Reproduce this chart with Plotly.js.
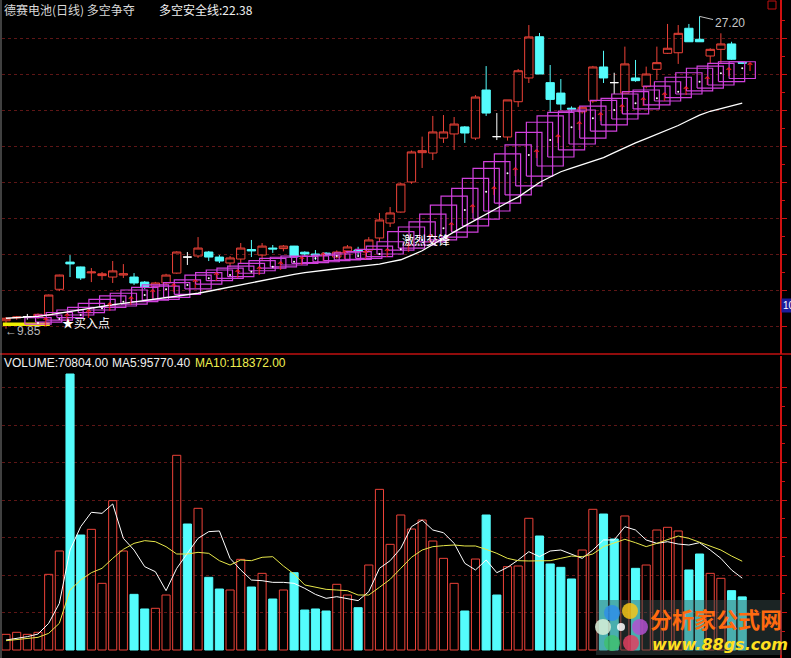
<!DOCTYPE html>
<html><head><meta charset="utf-8">
<script src="https://cdn.plot.ly/plotly-3.0.1.min.js"></script>
<style>html,body{margin:0;padding:0;background:#000;}#chart{width:791px;height:658px;}</style>
</head><body><div id="chart"></div>
<script>
// ---------------- data ----------------
const openP = [10.29,10.45,10.52,10.48,10.61,12.04,13.55,13.28,12.95,12.8,
 12.72,12.83,12.72,12.44,12.17,12.39,12.94,13.83,13.89,14.11,
 13.83,13.5,13.72,14.25,13.94,14.33,14.3,14.44,14.1,14.0,
 14.05,13.83,14.17,14.22,14.22,14.89,15.72,16.33,18.0,19.63,
 19.61,20.44,20.67,21.06,20.44,23.11,20.52,20.5,22.46,23.78,
 26.07,23.52,22.94,22.1,21.9,22.5,24.39,23.52,22.94,23.78,
 23.3,24.26,25.15,25.18,26.54,25.93,25.0,25.37,25.67,24.65];
const highP = [10.5,10.55,10.67,10.7,11.75,12.85,13.94,13.3,13.22,13.0,
 13.61,13.44,12.94,12.5,12.45,12.9,14.15,14.11,14.94,14.17,
 13.94,13.89,14.61,14.78,14.61,14.5,14.5,14.45,14.15,14.22,
 14.1,14.2,14.5,14.4,14.94,16.28,16.61,17.95,19.75,20.52,
 21.67,21.72,21.61,21.11,22.83,24.44,21.83,22.56,24.28,26.72,
 26.28,24.5,23.72,22.2,22.2,24.45,25.29,24.07,25.52,24.78,
 24.41,25.52,26.78,26.72,26.78,27.2,25.43,26.26,25.79,24.7];
const lowP = [9.85,10.35,10.35,10.4,10.55,11.94,12.72,12.56,12.44,12.56,
 12.39,12.67,12.28,12.05,12.1,12.3,12.9,13.39,13.78,13.61,
 13.5,13.28,13.5,13.83,13.67,14.06,14.15,13.8,13.9,13.67,
 13.9,13.75,14.06,13.94,14.15,14.67,15.5,16.3,17.9,18.78,
 19.22,20.17,19.78,20.17,20.33,21.67,20.33,20.3,22.17,23.5,
 24.0,21.89,22.0,21.9,21.8,22.4,23.5,22.89,22.94,23.57,
 23.2,23.67,25.11,24.56,25.79,25.79,24.59,24.59,24.78,24.55];
const closeP = [10.43,10.5,10.52,10.65,11.72,12.83,13.45,12.67,13.0,12.9,
 13.06,12.9,12.39,12.17,12.39,12.83,14.11,13.83,14.33,13.83,
 13.61,13.78,14.33,14.17,14.44,14.28,14.44,13.83,14.0,13.94,
 13.95,14.11,14.39,14.17,14.78,15.89,16.28,17.89,19.67,19.74,
 20.78,20.78,21.22,20.72,22.72,21.83,20.52,22.56,24.18,26.06,
 24.0,22.59,22.33,22.05,22.15,24.39,23.78,23.52,24.56,23.63,
 24.0,24.63,25.43,26.26,25.79,25.79,25.37,25.67,24.82,24.6];
// 多空安全线
const safetyLine = [10.43,10.45,10.47,10.53,10.62,10.72,10.81,10.90,11.0,11.09,
 11.18,11.26,11.34,11.41,11.48,11.57,11.65,11.73,11.82,11.93,
 12.05,12.17,12.28,12.41,12.52,12.64,12.76,12.87,12.96,13.04,
 13.13,13.18,13.24,13.31,13.38,13.44,13.56,13.68,13.92,14.18,
 14.53,14.89,15.23,15.56,15.89,16.21,16.53,16.86,17.16,17.56,
 17.97,18.28,18.57,18.77,18.97,19.14,19.36,19.63,19.92,20.17,
 20.41,20.64,20.87,21.14,21.43,21.71,21.93,22.09,22.22,22.38];
// magenta boxes: top / bottom price per bar
const boxTop = [null,null,null,10.47,10.61,10.75,10.89,11.04,11.26,11.48,
 11.67,11.82,12.0,12.15,12.28,12.22,12.41,12.56,12.83,12.96,
 13.11,13.21,13.33,13.48,13.63,13.76,13.82,13.89,13.86,13.89,
 13.94,14.0,14.07,14.13,14.26,14.44,14.68,15.24,15.5,15.78,
 16.22,16.72,17.22,17.65,18.2,18.76,19.13,19.56,20.06,20.76,
 21.32,21.67,21.87,21.94,22.0,22.22,22.53,22.65,22.89,23.02,
 23.11,23.33,23.57,23.82,24.07,24.32,24.44,24.59,24.68,24.68];
const boxBottom = [null,null,null,10.1,10.22,10.33,10.47,10.61,10.74,10.89,
 11.04,11.11,11.22,11.35,11.44,11.48,11.59,11.76,12.06,12.33,
 12.52,12.65,12.74,12.93,13.07,13.21,13.29,13.39,13.48,13.52,
 13.57,13.63,13.67,13.7,13.76,13.85,14.0,14.22,14.33,14.5,
 14.67,14.78,14.94,15.22,15.56,15.94,16.39,16.83,17.28,17.78,
 18.33,18.89,19.39,19.78,20.11,20.44,20.83,21.17,21.5,21.78,
 22.06,22.28,22.5,22.69,22.89,23.06,23.22,23.39,23.58,23.75];
// red up-arrows
const arrowBars = [3,5,7,9,11,13,15,17,19,21,23,25,27,29,31,33,35,37,39,41,43,45,47,49,51,53,55,57,59,61,63,65,67,69];
const arrowPrice = [10.17,10.39,10.61,10.98,11.35,11.72,12.04,12.28,12.65,12.83,
 13.02,13.29,13.57,13.76,13.89,13.89,14.0,14.26,14.78,15.43,
 16.44,17.46,18.48,19.5,20.33,21.04,21.54,22.0,22.37,22.65,
 23.02,23.57,24.04,24.32];
// yellow buy-zone line
const buyLineBars = [-0.3, 4.1];
const buyLinePrice = [10.1, 10.1];
// volume
const volume = [20900,23600,20900,23600,100900,132000,368000,153300,160900,88900,
 199100,132000,74200,54700,55600,73300,259600,168000,188900,96900,
 81300,80000,120900,84000,102200,68000,80000,103100,53300,54700,
 52000,87600,73300,56400,113300,214200,140900,180000,161300,173300,
 145300,122200,88900,52000,121300,180000,73300,111100,112000,175600,
 152000,114700,110200,94700,133300,187600,181300,148000,178700,108900,
 113300,160000,163600,158700,106700,128000,102200,95600,79100,70804];
const ma5 = [13300,15600,17800,21300,35600,62200,133300,164400,183600,182200,
 194700,148900,133300,111100,104400,79100,108900,128900,148900,157800,
 158700,122200,106700,93300,92400,90200,90200,88900,82200,74200,
 68900,71100,68900,65800,77800,108900,119100,135600,164400,173300,
 160000,156400,142200,115600,106700,120000,103100,110200,120000,131100,
 124400,132000,133300,128000,122200,133300,146700,146700,164400,160000,
 146700,142200,144400,141300,140000,143100,133300,122200,106700,95770.4];
const ma10 = [12400,14200,15100,16900,22200,35600,80000,93300,103100,108900,
 122200,134200,142200,145800,144400,137800,128000,128000,130200,128900,
 119100,113300,120000,119100,123600,124400,112000,101300,86700,83600,
 80900,80000,79100,73300,73300,83600,94200,108900,123600,133300,
 137800,139100,140000,138700,138700,134200,128900,122200,119100,118700,
 118700,119100,122200,125300,124400,128000,137800,142200,147600,143100,
 137800,142200,146700,152000,148900,143600,137800,133300,125300,118372];
const priceTicks = [10,12,14,16,18,20,22,24,26];
const volTicks = [50000,100000,150000,200000,250000,300000,350000];

// ---------------- styling ----------------
const RED = '#ec4238', CYAN = '#54fcfc', MAG = '#d040dc', AXR = '#d01010', GRID = '#5e1616';
const N = closeP.length;
const idx = Array.from({length: N}, (_, i) => i);
const W = 791, H = 658, L = 2, R = 780;
const PX = x => (x - L) / (R - L);
const PY = y => 1 - y / H;

function candles(filter, lineCol, fillCol) {
  const ii = idx.filter(filter);
  return {
    type: 'candlestick', xaxis: 'x', yaxis: 'y', hoverinfo: 'skip',
    x: ii, open: ii.map(i => openP[i]), high: ii.map(i => highP[i]),
    low: ii.map(i => lowP[i]), close: ii.map(i => closeP[i]),
    increasing: {line: {color: lineCol, width: 1}, fillcolor: fillCol},
    decreasing: {line: {color: lineCol, width: 1}, fillcolor: fillCol},
    whiskerwidth: 0
  };
}
const upT = candles(i => closeP[i] > openP[i], RED, 'rgba(0,0,0,0)');
const dnT = candles(i => closeP[i] < openP[i], CYAN, CYAN);
const djT = candles(i => closeP[i] === openP[i], '#ffffff', '#ffffff');

// boxes
const BW = 1.23;
const bx = [], by = [];
idx.forEach(i => {
  if (boxTop[i] == null) return;
  bx.push(i - BW, i + BW, i + BW, i - BW, i - BW, null);
  by.push(boxBottom[i], boxBottom[i], boxTop[i], boxTop[i], boxBottom[i], null);
});
const boxT = {type: 'scatter', mode: 'lines', x: bx, y: by, xaxis: 'x', yaxis: 'y',
  line: {color: MAG, width: 1.2}, hoverinfo: 'skip', connectgaps: false};

const safeT = {type: 'scatter', mode: 'lines', x: idx, y: safetyLine, xaxis: 'x', yaxis: 'y',
  line: {color: '#ffffff', width: 1.3}, hoverinfo: 'skip'};

const arrowT = {type: 'scatter', mode: 'markers+text', x: arrowBars, y: arrowPrice,
  xaxis: 'x', yaxis: 'y', marker: {color: '#ffffff', size: 2},
  text: arrowBars.map(() => '↑'), textposition: 'middle right',
  textfont: {color: '#e82020', size: 12, family: 'DejaVu Sans'}, hoverinfo: 'skip'};

const buyT = {type: 'scatter', mode: 'lines', x: buyLineBars, y: buyLinePrice, xaxis: 'x', yaxis: 'y',
  line: {color: '#f0f000', width: 3.5}, hoverinfo: 'skip'};

// volume
const volUp = idx.map(i => closeP[i] > openP[i] || (closeP[i] === openP[i] && i > 0 && closeP[i] >= closeP[i - 1]));
const volT = {type: 'bar', x: idx, y: volume, xaxis: 'x', yaxis: 'y2', width: 0.76,
  marker: {color: volUp.map(u => u ? 'rgba(0,0,0,0)' : CYAN),
           line: {color: volUp.map(u => u ? RED : CYAN), width: 1}}, hoverinfo: 'skip'};
const ma5T = {type: 'scatter', mode: 'lines', x: idx, y: ma5, xaxis: 'x', yaxis: 'y2',
  line: {color: '#ffffff', width: 1}, hoverinfo: 'skip'};
const ma10T = {type: 'scatter', mode: 'lines', x: idx, y: ma10, xaxis: 'x', yaxis: 'y2',
  line: {color: '#e8e84a', width: 1}, hoverinfo: 'skip'};

// annotations
const CJK = 'Noto Sans CJK SC', LAT = 'Liberation Sans';
const maxH = Math.max(...highP), maxI = highP.indexOf(maxH);
const minL = Math.min(...lowP), minI = lowP.indexOf(minL);
function lab(text, x, y, color, size, fam, extra) {
  return Object.assign({xref: 'paper', yref: 'paper', x: PX(x), y: PY(y), xanchor: 'left', yanchor: 'middle',
    text: text, showarrow: false, font: {color: color, size: size, family: fam}}, extra || {});
}
const annotations = [
  lab('德赛电池(日线) 多空争夺', 2, 10, '#d8d8d8', 12, CJK),
  lab('多空安全线:' + safetyLine[N - 1].toFixed(2), 157, 10, '#f0f0f0', 12, CJK),
  lab('VOLUME:' + volume[N - 1].toFixed(2), 2, 363, '#f0f0f0', 12, LAT),
  lab('MA5:' + ma5[N - 1].toFixed(2), 110, 363, '#f0f0f0', 12, LAT),
  lab('MA10:' + ma10[N - 1].toFixed(2), 193, 363, '#f0f050', 12, LAT),
  lab('10', 780.5, 306, '#ffffff', 10, LAT, {bgcolor: '#1c1c9c', borderpad: 1}),
  {xref: 'x', yref: 'y', x: maxI, y: maxH, text: maxH.toFixed(2), showarrow: true, arrowhead: 0,
   arrowwidth: 1, arrowcolor: '#c0c0c0', ax: 30, ay: 7, font: {color: '#c8c8c8', size: 12, family: LAT}},
  {xref: 'x', yref: 'y', x: minI, y: minL, text: '←' + minL.toFixed(2), showarrow: false,
   xanchor: 'left', yanchor: 'middle', xshift: -3, yshift: -2, font: {color: '#b8b8b8', size: 12, family: LAT}},
  {xref: 'x', yref: 'y', x: 5.05, y: 10.17, text: '★买入点', showarrow: false, xanchor: 'left', yanchor: 'middle',
   font: {color: '#ffffff', size: 12, family: CJK}},
  {xref: 'x', yref: 'y', x: 36.95, y: 14.78, text: '激烈交锋', showarrow: false, xanchor: 'left', yanchor: 'middle',
   font: {color: '#ffffff', size: 12, family: CJK}},
  // watermark
  lab('<b>分析家公式网</b>', 648, 618, '#ff6a10', 22, CJK),
  lab('<b><i>www.88gs.com</i></b>', 650, 644, '#ffe020', 16, 'DejaVu Sans'),
];

function circle(cx, cy, r, col) {
  return {type: 'circle', xref: 'paper', yref: 'paper', x0: PX(cx - r), x1: PX(cx + r), y0: PY(cy + r), y1: PY(cy - r),
    fillcolor: col, line: {width: 0}, opacity: 0.85};
}
const shapes = [
  {type: 'line', xref: 'paper', yref: 'paper', x0: PX(0), x1: PX(791), y0: PY(354), y1: PY(354), line: {color: '#c01010', width: 1.5}},
  {type: 'line', xref: 'paper', yref: 'paper', x0: PX(1), x1: PX(1), y0: 0, y1: 1, line: {color: '#808080', width: 1}},
  {type: 'rect', xref: 'paper', yref: 'paper', x0: PX(768), x1: PX(776), y0: PY(9), y1: PY(1), line: {color: '#c01010', width: 1}},
  {type: 'rect', xref: 'paper', yref: 'paper', x0: PX(596), x1: PX(782), y0: PY(655), y1: PY(600),
   fillcolor: 'rgba(60,80,80,0.45)', line: {width: 0}},
  circle(612, 613, 8, '#2f8fe8'), circle(630, 611, 8, '#f5c518'), circle(640, 627, 8, '#b050d0'),
  circle(631, 643, 8, '#e04060'), circle(612, 643, 8, '#40c070'), circle(603, 627, 8, '#d8f0d8'),
  circle(621, 627, 4, '#ffffff')
];

const layout = {
  width: W, height: H, margin: {l: L, r: W - R, t: 0, b: 0, pad: 0},
  paper_bgcolor: '#000', plot_bgcolor: '#000', showlegend: false, hovermode: false,
  boxgap: 0.22, boxgroupgap: 0, boxmode: 'overlay', barmode: 'overlay',
  xaxis: {range: [-(6 - L) / 10.67, (R - 6) / 10.67], showgrid: false, zeroline: false, showticklabels: false,
          ticks: '', showline: false, rangeslider: {visible: false}, fixedrange: true},
  yaxis: {domain: [PY(354), 1], range: [(506 - 354) / 18, 506 / 18], side: 'right',
          tickmode: 'array', tickvals: priceTicks, showticklabels: false, ticks: 'outside', ticklen: 5, tickcolor: AXR,
          showline: true, linecolor: AXR, linewidth: 1.5, showgrid: true, gridcolor: GRID, griddash: 'dot', zeroline: false,
          minor: {tickvals: priceTicks.map(v => v + 1), ticks: 'outside', ticklen: 3, tickcolor: AXR, showgrid: false}},
  yaxis2: {domain: [0, PY(356)], range: [-(658 - 650) * 50000 / 37.5, (650 - 356) * 50000 / 37.5], side: 'right', anchor: 'x',
          tickmode: 'array', tickvals: volTicks, showticklabels: false, ticks: 'outside', ticklen: 5, tickcolor: AXR,
          showline: true, linecolor: AXR, linewidth: 1.5, showgrid: true, gridcolor: GRID, griddash: 'dot', zeroline: false,
          minor: {tickvals: volTicks.map(v => v - 25000), ticks: 'outside', ticklen: 3, tickcolor: AXR, showgrid: false}},
  annotations: annotations, shapes: shapes
};

Plotly.newPlot('chart', [volT, ma5T, ma10T, upT, dnT, djT, buyT, boxT, safeT, arrowT], layout,
  {displayModeBar: false, staticPlot: true});
</script></body></html>
